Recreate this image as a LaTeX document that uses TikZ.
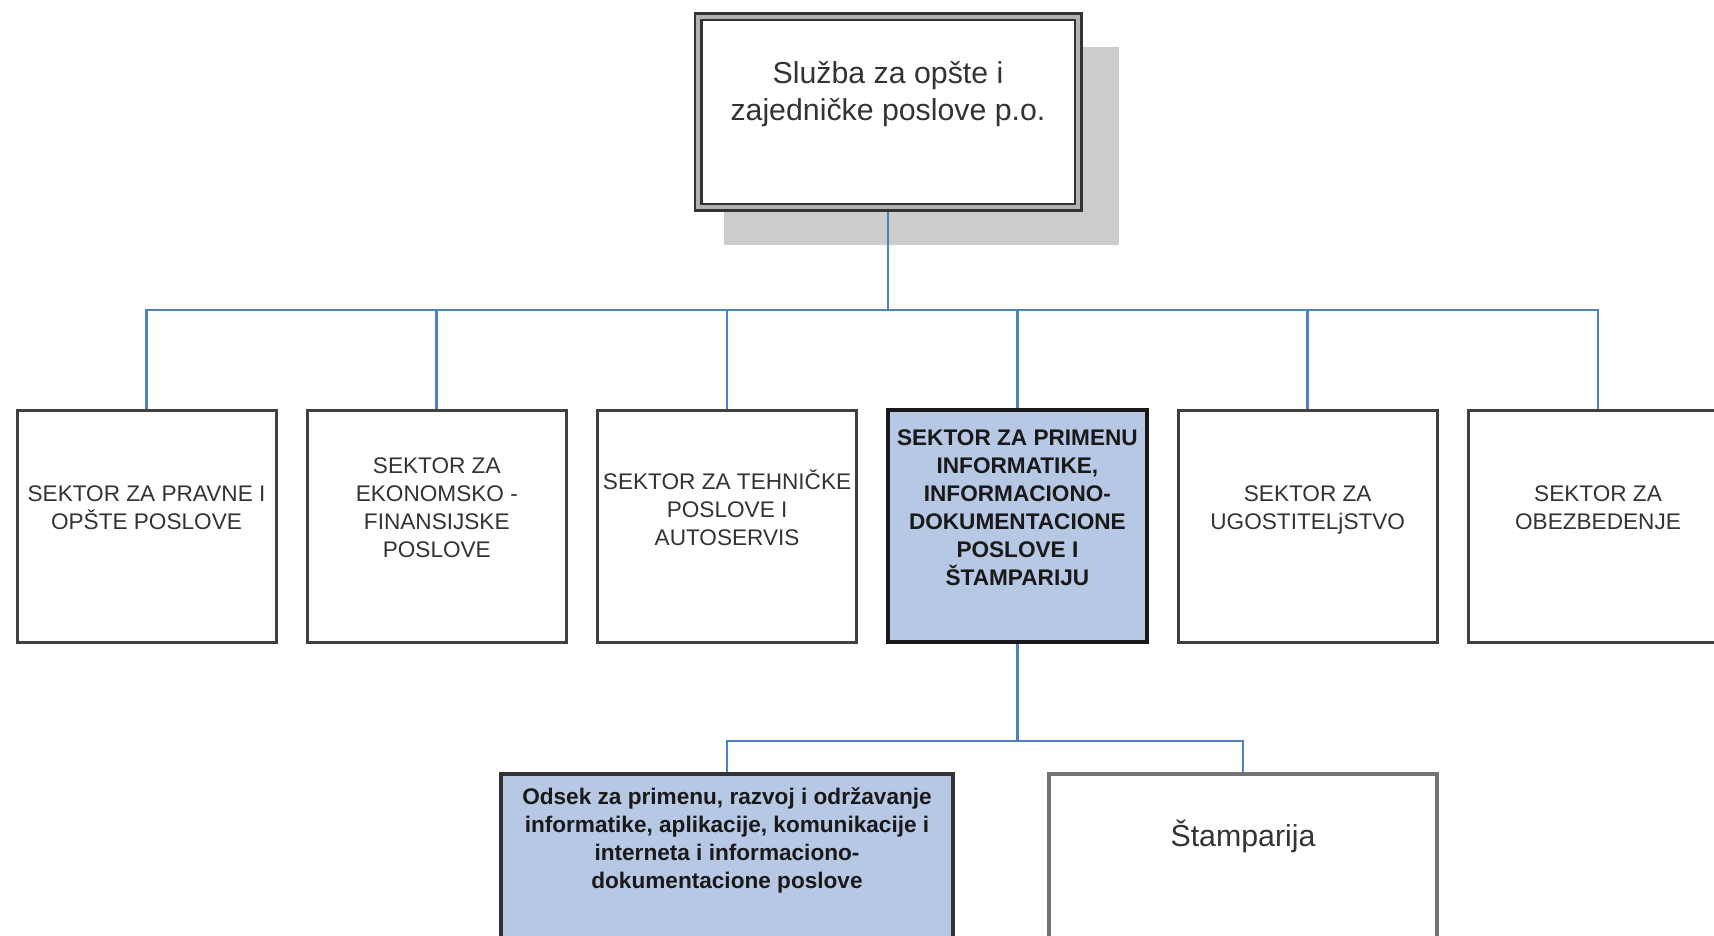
\documentclass[tikz,border=0pt]{standalone}
\usepackage{fontspec}
\setmainfont{Liberation Sans}
\usetikzlibrary{positioning,shadows}

\definecolor{linkblue}{RGB}{79,129,189}
\definecolor{fillblue}{RGB}{182,200,228}

\begin{document}
\begin{tikzpicture}[x=0.5pt,y=-0.5pt,node distance=145.15pt,
  link/.style={draw=linkblue,line width=1.35pt},
  headbox/.style={draw=black!80,double=black!30,double distance=2pt,line width=1.25pt,fill=white,
    minimum width=190pt,minimum height=95.25pt,outer sep=2.25pt,
    drop shadow={draw=none,shadow scale=1.04,shadow xshift=16pt,shadow yshift=-16.5pt,fill=black!20,opacity=1}},
  headtext/.style={font=\fontsize{15.15}{18.5}\selectfont,text=black!80,align=center,yshift=9.1pt},
  sector/.style={draw=black!75,line width=1.5pt,fill=white,minimum width=129.5pt,minimum height=116pt},
  sectorhl/.style={draw=black!90,line width=2pt,fill=fillblue},
  sectortext/.style={font=\fontsize{11.3}{14}\selectfont,text=black!80,align=center,yshift=9pt},
  boldtext/.style={sectortext,font=\fontsize{11.3}{14}\selectfont\bfseries,text=black!90},
  subbox/.style={line width=1.75pt,minimum height=120pt}]

\useasboundingbox (0,0) rectangle (1714,936);

\node[headbox,label={[headtext]center:{Služba za opšte i\\zajedničke poslove p.o.}}] (top) at (888,112) {};

\node[sector,label={[sectortext]center:{SEKTOR ZA PRAVNE I\\OPŠTE POSLOVE}}] (s1) at (146.5,526) {};
\node[sector,label={[sectortext]center:{SEKTOR ZA\\EKONOMSKO -\\FINANSIJSKE\\POSLOVE}}] (s2) [right of=s1] {};
\node[sector,label={[sectortext]center:{SEKTOR ZA TEHNIČKE\\POSLOVE I\\AUTOSERVIS}}] (s3) [right of=s2] {};
\node[sector,sectorhl,label={[boldtext]center:{SEKTOR ZA PRIMENU\\INFORMATIKE,\\INFORMACIONO-\\DOKUMENTACIONE\\POSLOVE I\\ŠTAMPARIJU}}] (s4) [right of=s3] {};
\node[sector,label={[sectortext,yshift=-1pt]center:{SEKTOR ZA\\UGOSTITELjSTVO}}] (s5) [right of=s4] {};
\node[sector,label={[sectortext]center:{SEKTOR ZA\\OBEZBEDENJE}}] (s6) [right of=s5] {};

\node[subbox,draw=black!80,fill=fillblue,minimum width=226pt,
  label={[boldtext,yshift=17.75pt]center:{Odsek za primenu, razvoj i održavanje\\informatike, aplikacije, komunikacije i\\interneta i informaciono-\\dokumentacione poslove}}] (odsek) at (727,894) {};
\node[subbox,draw=black!55,fill=white,minimum width=194pt,
  label={[headtext,yshift=19.9pt]center:Štamparija}] (stamp) at (1243,894) {};

% veze
\coordinate (bus) at (top.south |- 0,310);
\coordinate (subbus) at (s4.south |- 0,741);
\draw[link] (top) -- (bus);
\foreach \n in {s1,s2,s3,s4,s5,s6}
  \draw[link] (bus) -| (\n.north);
\draw[link] (s4) -- (subbus);
\foreach \n in {odsek,stamp}
  \draw[link] (subbus) -| (\n.north);

\end{tikzpicture}
\end{document}
